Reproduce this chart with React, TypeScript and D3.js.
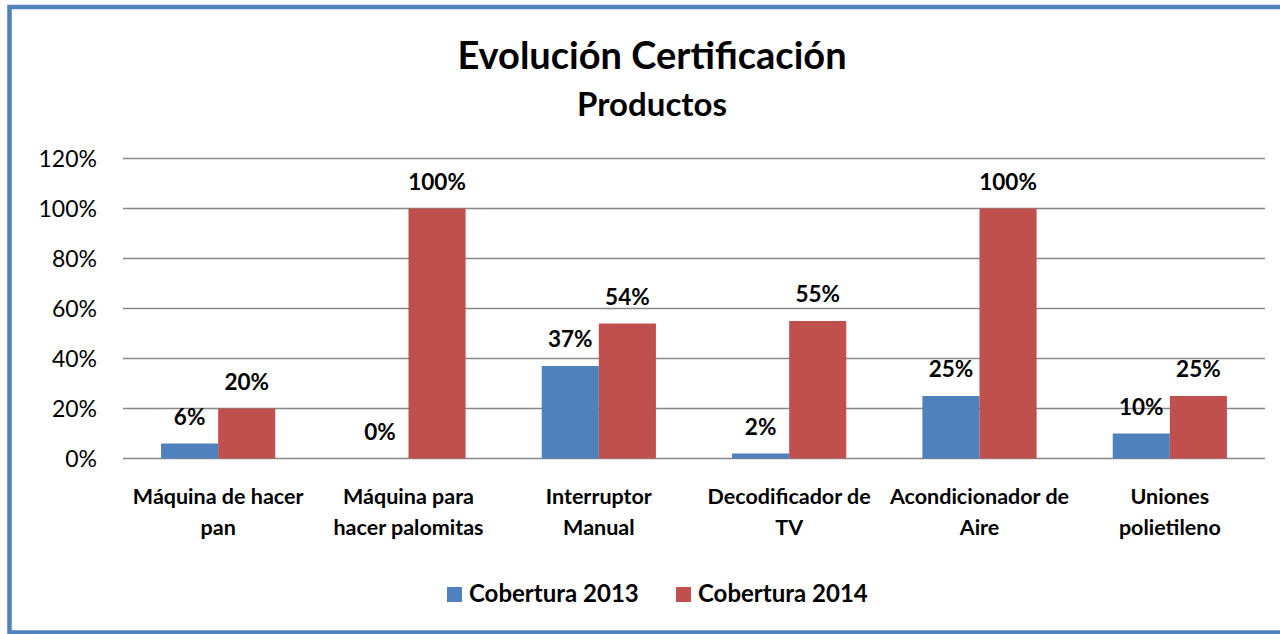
import React, { useEffect, useRef } from 'react';
import * as d3 from 'd3';

const categories = [
  ['Máquina de hacer', 'pan'],
  ['Máquina para', 'hacer palomitas'],
  ['Interruptor', 'Manual'],
  ['Decodificador de', 'TV'],
  ['Acondicionador de', 'Aire'],
  ['Uniones', 'polietileno'],
];
const series = ['Cobertura 2013', 'Cobertura 2014'];
const values2013 = [0.06, 0, 0.37, 0.02, 0.25, 0.1];
const values2014 = [0.2, 1, 0.54, 0.55, 1, 0.25];
const ticks = [0, 0.2, 0.4, 0.6, 0.8, 1, 1.2];
const colors = ['#4F81BD', '#C0504D'];

const width = 1280;
const height = 634;
const font = 'Lato, "Open Sans", sans-serif';

export default function App() {
  const ref = useRef<SVGSVGElement>(null);

  useEffect(() => {
    const svg = d3.select(ref.current);
    svg.selectAll('*').remove();

    // chart frame
    svg.append('rect')
      .attr('x', 9.5).attr('y', 7)
      .attr('width', 1300).attr('height', 625.5)
      .attr('fill', '#fff')
      .attr('stroke', '#4F81BD')
      .attr('stroke-width', 4.5);

    svg.append('text')
      .attr('x', 652).attr('y', 69)
      .attr('text-anchor', 'middle')
      .attr('font-family', font).attr('font-weight', 'bold')
      .attr('font-size', 38)
      .text('Evolución Certificación');
    svg.append('text')
      .attr('x', 652).attr('y', 116)
      .attr('text-anchor', 'middle')
      .attr('font-family', font).attr('font-weight', 'bold')
      .attr('font-size', 33)
      .text('Productos');

    const x0 = d3.scaleBand<number>()
      .domain(d3.range(categories.length))
      .range([123, 1265])
      .paddingInner(0.4)
      .paddingOuter(0.2);
    const x1 = d3.scaleBand<number>()
      .domain([0, 1])
      .range([0, x0.bandwidth()]);
    const y = d3.scaleLinear().domain([0, 1.2]).range([458.5, 158.5]);

    const grid = svg.append('g');
    grid.selectAll('line')
      .data(ticks)
      .enter()
      .append('line')
      .attr('x1', 123).attr('x2', 1265)
      .attr('y1', d => y(d)).attr('y2', d => y(d))
      .attr('stroke', '#878787')
      .attr('stroke-width', 1.6);
    grid.selectAll('text')
      .data(ticks)
      .enter()
      .append('text')
      .attr('x', 97)
      .attr('y', d => y(d) + 8)
      .attr('text-anchor', 'end')
      .attr('font-family', font)
      .attr('font-size', 23)
      .text(d => d3.format('.0%')(d));

    const rows = [values2013, values2014];
    rows.forEach((vals, s) => {
      const g = svg.append('g');
      g.selectAll('rect')
        .data(vals)
        .enter()
        .append('rect')
        .attr('x', (d, i) => x0(i)! + x1(s)!)
        .attr('y', d => y(d))
        .attr('width', x1.bandwidth())
        .attr('height', d => y(0) - y(d))
        .attr('fill', colors[s]);
      g.selectAll('text')
        .data(vals)
        .enter()
        .append('text')
        .attr('x', (d, i) => x0(i)! + x1(s)! + x1.bandwidth() / 2)
        .attr('y', d => y(d) - 19)
        .attr('text-anchor', 'middle')
        .attr('font-family', font).attr('font-weight', 'bold')
        .attr('font-size', 22.5)
        .text(d => d3.format('.0%')(d));
    });

    const cat = svg.append('g')
      .selectAll('text')
      .data(categories)
      .enter()
      .append('text')
      .attr('text-anchor', 'middle')
      .attr('font-family', font).attr('font-weight', 'bold')
      .attr('font-size', 21.5);
    cat.each(function (d, i) {
      const t = d3.select(this);
      d.forEach((line, j) => {
        t.append('tspan')
          .attr('x', x0(i)! + x0.bandwidth() / 2)
          .attr('y', 504 + j * 31)
          .text(line);
      });
    });

    // legend
    const legendX = [447, 676];
    series.forEach((name, s) => {
      svg.append('rect')
        .attr('x', legendX[s]).attr('y', 587)
        .attr('width', 15).attr('height', 15)
        .attr('fill', colors[s]);
      svg.append('text')
        .attr('x', legendX[s] + 22).attr('y', 602)
        .attr('font-family', font).attr('font-weight', 'bold')
        .attr('font-size', 24)
        .text(name);
    });
  }, []);

  return (
    <svg
      ref={ref}
      width={width}
      height={height}
      style={{ position: 'absolute', left: 0, top: 0, display: 'block' }}
    />
  );
}
